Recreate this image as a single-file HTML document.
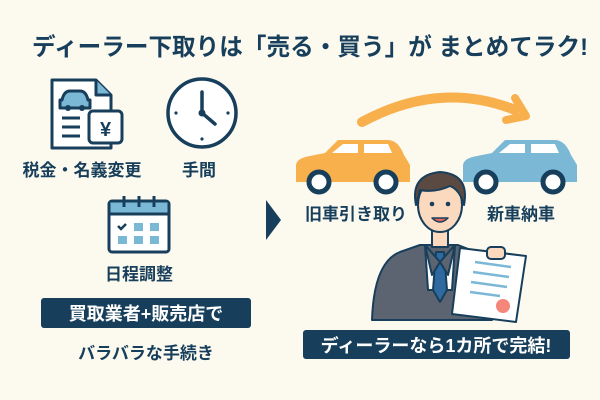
<!DOCTYPE html>
<html><head><meta charset="utf-8"><style>
html,body{margin:0;padding:0;background:#fcf9ef}
svg{display:block}
text{font-family:"Liberation Sans","Noto Sans CJK JP",sans-serif;font-weight:700}
</style></head><body>
<svg width="600" height="400" viewBox="0 0 600 400" xmlns="http://www.w3.org/2000/svg">
<rect width="600" height="400" fill="#fcf9ef"/>
<text x="32" y="55" font-size="24" fill="#173f5b" textLength="556" lengthAdjust="spacingAndGlyphs">ディーラー下取りは「売る・買う」が まとめてラク!</text>
<!-- document icon -->
<g stroke="#173f5b" stroke-width="3" fill="#fff" stroke-linejoin="round">
<path d="M52,80 H96 L111,95 V148 H52 Z"/>
<path d="M96,80 V95 H111" fill="#7bb8d6"/>
<path d="M62,100 Q64,91 70,91 H80 Q86,91 88,100 H90 V108 H60 V100 Z" fill="#7bb8d6"/>
<line x1="62" y1="118" x2="80" y2="118"/><line x1="62" y1="127" x2="80" y2="127"/><line x1="62" y1="136" x2="80" y2="136"/>
<rect x="89" y="111" width="33" height="32" rx="4"/>
</g>
<circle cx="68" cy="108" r="3" fill="#173f5b"/><circle cx="82" cy="108" r="3" fill="#173f5b"/>
<text x="105.5" y="136" text-anchor="middle" font-size="20" fill="#173f5b">¥</text>
<!-- clock -->
<circle cx="202" cy="113" r="34" fill="#fff" stroke="#173f5b" stroke-width="3.5"/>
<path d="M202,92 V113 L215,124" stroke="#173f5b" stroke-width="3.5" fill="none" stroke-linecap="round"/>
<circle cx="202" cy="113" r="3.5" fill="#173f5b"/>
<circle cx="176" cy="113" r="1.6" fill="#173f5b"/><circle cx="228" cy="113" r="1.6" fill="#173f5b"/><circle cx="202" cy="139" r="1.6" fill="#173f5b"/>
<text x="82" y="176" text-anchor="middle" font-size="17" fill="#173f5b">税金・名義変更</text>
<text x="199" y="176" text-anchor="middle" font-size="17" fill="#173f5b">手間</text>
<!-- calendar -->
<rect x="109" y="201" width="60" height="51" rx="3" fill="#fff" stroke="#173f5b" stroke-width="3"/>
<rect x="110.5" y="202.5" width="57" height="11" fill="#7bb8d6"/>
<line x1="109" y1="214" x2="169" y2="214" stroke="#173f5b" stroke-width="3"/>
<g stroke="#173f5b" stroke-width="3"><line x1="124" y1="196" x2="124" y2="207"/><line x1="139" y1="196" x2="139" y2="207"/><line x1="154" y1="196" x2="154" y2="207"/></g>
<path d="M118,226 l3,3 l5,-5" stroke="#173f5b" stroke-width="2.5" fill="none"/>
<g fill="#7bb8d6"><rect x="134" y="223" width="9" height="8"/><rect x="150" y="223" width="9" height="8"/><rect x="118" y="236" width="9" height="8"/><rect x="134" y="236" width="9" height="8"/><rect x="150" y="236" width="9" height="8"/></g>
<text x="139" y="280" text-anchor="middle" font-size="17" fill="#173f5b">日程調整</text>
<rect x="41" y="298" width="210" height="30" rx="3" fill="#173f5b"/>
<text x="146" y="320" text-anchor="middle" font-size="18" fill="#fff">買取業者+販売店で</text>
<text x="146" y="359" text-anchor="middle" font-size="17" fill="#173f5b" font-weight="500">バラバラな手続き</text>
<!-- triangle -->
<path d="M266,200 L281,220 L266,240 Z" fill="#173f5b"/>
<!-- arc arrow -->
<path d="M362,122 Q440,80 515,110" stroke="#f8b04c" stroke-width="10" fill="none" stroke-linecap="round"/>
<path d="M515,98 L526,116 L506,120" stroke="#f8b04c" stroke-width="8" fill="none" stroke-linecap="round" stroke-linejoin="round"/>
<!-- orange car -->
<path d="M296,165 Q297,158 310,156 L325,153 L338,140 H388 Q398,140 404,155 L410,165 V182 H296 Z" fill="#f8b04c"/>
<path d="M332,153 L343,144 H358 V153 Z" fill="#fff"/><path d="M364,144 H388 L392,153 H364 Z" fill="#fff"/>
<circle cx="319" cy="182" r="10" fill="#fff" stroke="#173f5b" stroke-width="5"/>
<circle cx="386" cy="182" r="10" fill="#fff" stroke="#173f5b" stroke-width="5"/>
<!-- blue car -->
<path d="M463,165 Q464,158 477,156 L492,153 L505,140 H555 Q565,140 571,155 L577,165 V182 H463 Z" fill="#7bb8d6"/>
<path d="M499,153 L510,144 H525 V153 Z" fill="#fff"/><path d="M531,144 H555 L559,153 H531 Z" fill="#fff"/>
<circle cx="486" cy="182" r="10" fill="#fff" stroke="#173f5b" stroke-width="5"/>
<circle cx="553" cy="182" r="10" fill="#fff" stroke="#173f5b" stroke-width="5"/>
<text x="356" y="220" text-anchor="middle" font-size="17" fill="#173f5b">旧車引き取り</text>
<text x="521" y="220" text-anchor="middle" font-size="17" fill="#173f5b">新車納車</text>
<!-- man -->
<g stroke="#173f5b" stroke-width="2" stroke-linejoin="round">
<path d="M372,320 Q374,262 400,252 L420,245 H458 L476,252 Q490,258 492,320 Z" fill="#5b6470"/>
<path d="M425,245 L440,262 L455,245 L452,290 H428 Z" fill="#fff"/>
<path d="M436,252 H444 L447,290 L440,302 L433,290 Z" fill="#2e6aa0"/>
<path d="M425,245 L432,275 L440,262 Z M455,245 L448,275 L440,262 Z" fill="#5b6470"/>
<rect x="432" y="225" width="16" height="22" fill="#fbd9bf"/>
<ellipse cx="440" cy="205" rx="22" ry="27" fill="#fbd9bf"/>
<path d="M416,205 Q410,175 440,172 Q470,174 464,205 Q460,190 450,186 Q435,193 420,190 Z" fill="#5a4a42"/>
<path d="M432,218 Q440,226 448,218 Z" fill="#e8665a" stroke-width="1.5"/>
<path d="M460,248 L526,256 L516,322 L452,314 Z" fill="#fff"/>
<rect x="487" y="247" width="18" height="12" rx="4" fill="#fbd9bf"/>
</g>
<circle cx="432" cy="204" r="2.3" fill="#173f5b"/><circle cx="448" cy="204" r="2.3" fill="#173f5b"/>
<g stroke="#7bb8d6" stroke-width="2.5"><line x1="475" y1="262" x2="511" y2="267"/><line x1="473" y1="272" x2="509" y2="277"/><line x1="471" y1="282" x2="507" y2="287"/><line x1="470" y1="292" x2="500" y2="296"/></g>
<circle cx="503" cy="306" r="7" fill="#f4877a"/>
<rect x="303" y="330" width="267" height="29" rx="3" fill="#173f5b"/>
<text x="436" y="352" text-anchor="middle" font-size="18" fill="#fff">ディーラーなら1カ所で完結!</text>
</svg>
</body></html>
